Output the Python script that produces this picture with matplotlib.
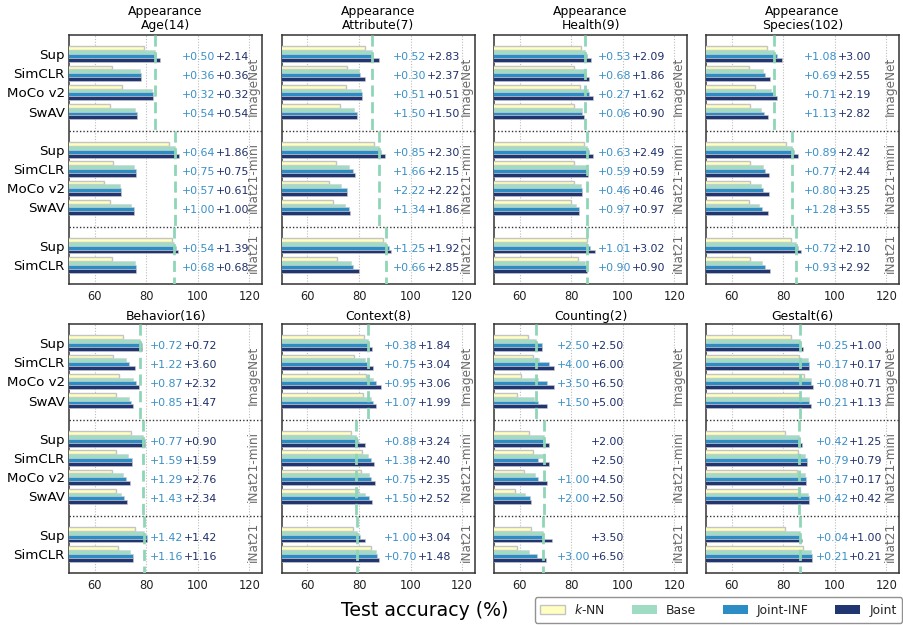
import matplotlib
matplotlib.use("Agg")
import matplotlib.pyplot as plt
from matplotlib.patches import Patch

panel_titles = ["Appearance\nAge(14)", "Appearance\nAttribute(7)", "Appearance\nHealth(9)",
                "Appearance\nSpecies(102)", "Behavior(16)", "Context(8)", "Counting(2)", "Gestalt(6)"]
model_labels = ["Sup", "SimCLR", "MoCo v2", "SwAV", "Sup", "SimCLR", "MoCo v2", "SwAV", "Sup", "SimCLR"]
section_names = ["ImageNet", "iNat21-mini", "iNat21"]
section_first = [0, 4, 8]  # index of the Sup row in each section

knn = [
    [79.2, 66.8, 70.6, 66.1, 88.8, 66.9, 63.4, 66.1, 90.1, 66.8],
    [82.3, 75.4, 74.8, 72.5, 85.9, 70.9, 68.5, 70.0, 89.4, 71.5],
    [83.8, 81.2, 83.2, 81.0, 85.1, 81.2, 81.0, 79.8, 86.0, 82.6],
    [73.5, 66.5, 69.0, 66.9, 81.2, 66.9, 66.9, 66.6, 82.9, 67.0],
    [70.9, 67.0, 69.4, 68.3, 74.1, 68.2, 66.8, 68.2, 75.8, 69.1],
    [82.0, 78.0, 82.6, 81.5, 76.7, 81.2, 80.8, 79.5, 77.7, 84.6],
    [63.0, 65.0, 60.6, 59.0, 63.4, 65.0, 61.6, 58.1, 64.5, 58.8],
    [83.0, 85.9, 87.9, 86.5, 80.7, 85.7, 85.4, 86.4, 80.8, 87.8],
]
base = [
    [83.2, 77.5, 82.3, 75.7, 91.0, 75.2, 69.7, 74.1, 90.8, 75.5],
    [85.0, 79.9, 80.7, 77.9, 87.7, 76.1, 73.2, 74.7, 90.3, 77.0],
    [85.5, 85.1, 86.6, 84.2, 86.1, 85.8, 83.8, 82.0, 86.1, 85.3],
    [76.5, 72.3, 75.2, 71.3, 83.2, 72.1, 71.2, 70.5, 84.8, 71.8],
    [77.5, 72.2, 75.0, 73.2, 78.6, 73.0, 71.0, 70.0, 79.0, 73.7],
    [83.3, 82.5, 85.6, 84.5, 78.9, 83.4, 84.0, 82.5, 79.3, 86.4],
    [66.3, 67.4, 66.9, 65.4, 69.4, 69.0, 65.9, 62.0, 69.1, 63.5],
    [86.6, 89.6, 90.7, 89.8, 86.1, 88.5, 88.5, 89.7, 86.3, 90.9],
]
# gains over Base (Joint-INF, Joint); non-positive gains are not labelled
gain_inf = [
    [0.50, 0.36, 0.32, 0.54, 0.64, 0.75, 0.57, 1.00, 0.54, 0.68],
    [0.52, 0.30, 0.51, 1.50, 0.85, 1.66, 2.22, 1.34, 1.25, 0.66],
    [0.53, 0.68, 0.27, 0.06, 0.63, 0.59, 0.46, 0.97, 1.01, 0.90],
    [1.08, 0.69, 0.71, 1.13, 0.89, 0.77, 0.80, 1.28, 0.72, 0.93],
    [0.72, 1.22, 0.87, 0.85, 0.77, 1.59, 1.29, 1.43, 1.42, 1.16],
    [0.38, 0.75, 0.95, 1.07, 0.88, 1.38, 0.75, 1.50, 1.00, 0.70],
    [2.50, 4.00, 3.50, 1.50, -0.25, -2.00, 1.00, 2.00, -0.50, 3.00],
    [0.25, 0.17, 0.08, 0.21, 0.42, 0.79, 0.17, 0.42, 0.04, 0.21],
]
gain_joint = [
    [2.14, 0.36, 0.32, 0.54, 1.86, 0.75, 0.61, 1.00, 1.39, 0.68],
    [2.83, 2.37, 0.51, 1.50, 2.30, 2.15, 2.22, 1.86, 1.92, 2.85],
    [2.09, 1.86, 1.62, 0.90, 2.49, 0.59, 0.46, 0.97, 3.02, 0.90],
    [3.00, 2.55, 2.19, 2.82, 2.42, 2.44, 3.25, 3.55, 2.10, 2.92],
    [0.72, 3.60, 2.32, 1.47, 0.90, 1.59, 2.76, 2.34, 1.42, 1.16],
    [1.84, 3.04, 3.06, 1.99, 3.24, 2.40, 2.35, 2.52, 3.04, 1.48],
    [2.50, 6.00, 6.50, 5.00, 2.00, 2.50, 4.50, 2.50, 3.50, 6.50],
    [1.00, 0.17, 0.71, 1.13, 1.25, 0.79, 0.17, 0.42, 1.00, 0.21],
]

ypos = [0, 1, 2, 3, 5, 6, 7, 8, 10, 11]
sections = [(-1, 4), (4, 9), (9, 12)]
label_y = [1.7, 6.45, 10.4]

c_knn = "#ffffc0"
c_base = "#a0dbc3"
c_inf = "#2c8cc4"
c_joint = "#213570"
c_line = "#8fd6b8"
txt_inf = "#3a90c8"
txt_joint = "#1f2f6b"

W, H = 904, 625
fig = plt.figure(figsize=(W / 100, H / 100), dpi=100)

col_left = [69, 281.7, 494, 706]
row_top = [35, 324]
ax_w, ax_h = 193.3, 249

for p in range(8):
    r, c = divmod(p, 4)
    ax = fig.add_axes([col_left[c] / W, 1 - (row_top[r] + ax_h) / H, ax_w / W, ax_h / H])
    b = base[p]
    inf = [b[i] + gain_inf[p][i] for i in range(10)]
    jnt = [b[i] + gain_joint[p][i] for i in range(10)]
    h = 0.2
    ax.barh([y - 0.3 for y in ypos], knn[p], height=h, color=c_knn, edgecolor="#c4c4c4", linewidth=1.0, zorder=3)
    ax.barh([y - 0.1 for y in ypos], b, height=h, color=c_base, edgecolor="#d0d0d0", linewidth=0.4, zorder=3)
    ax.barh([y + 0.1 for y in ypos], inf, height=h, color=c_inf, edgecolor="#d0d0d0", linewidth=0.4, zorder=3)
    ax.barh([y + 0.3 for y in ypos], jnt, height=h, color=c_joint, edgecolor="#d0d0d0", linewidth=0.4, zorder=3)

    # dashed line: Base of the supervised model in each section
    for (y0, y1), first in zip(sections, section_first):
        ax.plot([b[first], b[first]], [y0, y1], color=c_line, lw=2.0, ls=(0, (4, 2)), zorder=4)
    for ysep in (4, 9):
        ax.axhline(ysep, color="#333333", lw=1.0, ls=(0, (1, 1.5)), zorder=2)

    xt = max(max(jnt), max(inf), max(b), max(knn[p])) + 1.1
    for i, y in enumerate(ypos):
        if gain_inf[p][i] > 0:
            ax.text(xt, y + 0.15, f"+{gain_inf[p][i]:.2f}", color=txt_inf, fontsize=7.9, va="center", ha="left", zorder=5)
        ax.text(xt + 13.1, y + 0.15, f"+{gain_joint[p][i]:.2f}", color=txt_joint, fontsize=7.9, va="center", ha="left", zorder=5)

    for name, ly in zip(section_names, label_y):
        ax.text(124, ly, name, rotation=90, ha="right", va="center", color="#6b6b6b", fontsize=8.7, zorder=5)

    ax.set_xlim(50, 125)
    ax.set_ylim(12, -1)
    ax.set_xticks([60, 80, 100, 120])
    ax.xaxis.grid(True, color="#bdbdbd", ls=(0, (1, 1.5)), lw=0.8, zorder=0)
    ax.set_axisbelow(True)
    ax.tick_params(axis="x", labelsize=8.3, length=0, pad=4, colors="#222222")
    ax.tick_params(axis="y", length=0, pad=3)
    if c == 0:
        ax.set_yticks(ypos)
        ax.set_yticklabels(model_labels, fontsize=9.6)
    else:
        ax.set_yticks([])
    for sp in ax.spines.values():
        sp.set_color("#333333")
        sp.set_linewidth(1.1)
    ax.set_title(panel_titles[p], fontsize=8.9, pad=4 if r == 0 else 3, linespacing=1.1)

fig.text(425 / W, 1 - 610 / H, "Test accuracy (%)", ha="center", va="center", fontsize=13.6)

handles = [Patch(facecolor=c_knn, edgecolor="#c4c4c4"), Patch(facecolor=c_base), Patch(facecolor=c_inf), Patch(facecolor=c_joint)]
labels = ["$k$-NN", "Base", "Joint-INF", "Joint"]
leg = fig.legend(handles, labels, loc="lower right", bbox_to_anchor=(0.998, 0.004), ncol=4, fontsize=8.9,
                 handlelength=2.0, columnspacing=2.15, handletextpad=0.75, frameon=True, fancybox=True,
                 borderpad=0.45, borderaxespad=0)
leg.get_frame().set_edgecolor("#777777")
for t in leg.get_texts():
    t.set_color("#222222")

fig.savefig("out.png", dpi=100)
